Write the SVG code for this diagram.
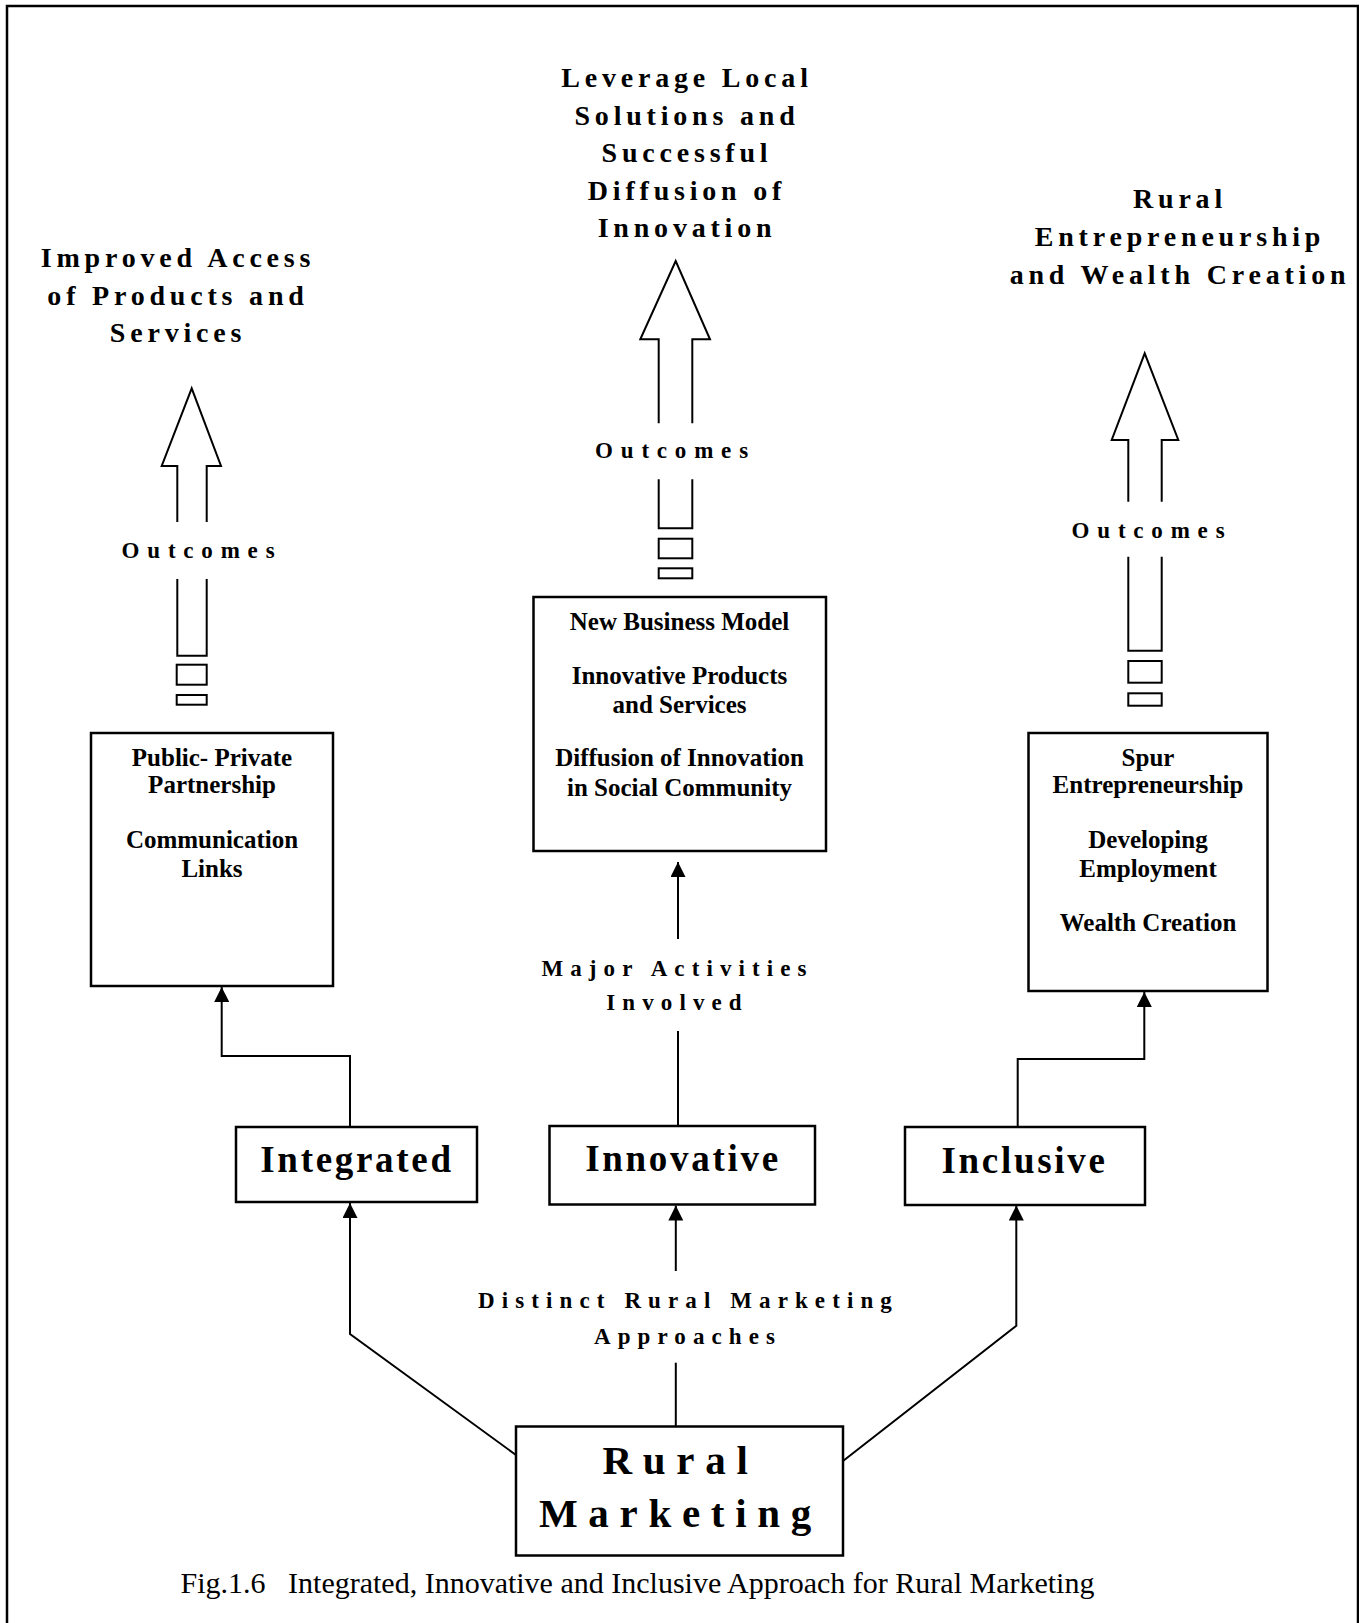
<svg xmlns="http://www.w3.org/2000/svg" width="1359" height="1623" viewBox="0 0 1359 1623">
  <style>
    text { font-family: "Liberation Serif", "Times New Roman", serif; fill: #000; text-anchor: middle; }
    .title { font-size: 28px; font-weight: bold; letter-spacing: 4.8px; }
    .outc { font-size: 23px; font-weight: bold; letter-spacing: 7.8px; }
    .lbl { font-size: 23px; font-weight: bold; letter-spacing: 7.1px; }
    .item { font-size: 25px; font-weight: bold; }
    .appr { font-size: 37px; font-weight: bold; letter-spacing: 2.7px; }
    .root { font-size: 41px; font-weight: bold; letter-spacing: 10.7px; }
    .cap { font-size: 30px; }
    .box { fill: #fff; stroke: #000; stroke-width: 2.5; }
    .hollow { fill: none; stroke: #000; stroke-width: 2; stroke-linejoin: miter; }
    .conn { fill: none; stroke: #000; stroke-width: 2; }
  </style>
  <defs>
    <marker id="head" markerUnits="userSpaceOnUse" markerWidth="15" markerHeight="15" viewBox="0 0 15 15" refX="15" refY="7.5" orient="auto">
      <path d="M0,0 L15,7.5 L0,15 Z" fill="#000"/>
    </marker>
  </defs>

  <!-- page frame -->
  <rect x="7" y="6" width="1351" height="1640" fill="none" stroke="#000" stroke-width="2.5"/>

  <!-- outcome headings -->
  <g id="outcome-access">
    <text class="title" x="178" y="267">Improved Access</text>
    <text class="title" x="178" y="305">of Products and</text>
    <text class="title" x="178" y="342">Services</text>
  </g>
  <g id="outcome-innovation">
    <text class="title" x="687" y="87">Leverage Local</text>
    <text class="title" x="687" y="125">Solutions and</text>
    <text class="title" x="687" y="162">Successful</text>
    <text class="title" x="687" y="200">Diffusion of</text>
    <text class="title" x="687" y="237">Innovation</text>
  </g>
  <g id="outcome-wealth">
    <text class="title" x="1180" y="208">Rural</text>
    <text class="title" x="1180" y="246">Entrepreneurship</text>
    <text class="title" x="1180" y="284">and Wealth Creation</text>
  </g>

  <!-- hollow "Outcomes" arrows -->
  <g id="arrow-left">
    <path class="hollow" d="M177.3,522 V466 H161.7 L191.7,388.3 L221,466 H206.7 V522"/>
    <path class="hollow" d="M177.3,579 V655.7 H206.7 V579"/>
    <rect class="hollow" x="176.7" y="664.7" width="30" height="20"/>
    <rect class="hollow" x="176.7" y="695" width="30" height="9.7"/>
    <text class="outc" x="202" y="558">Outcomes</text>
  </g>
  <g id="arrow-middle">
    <path class="hollow" d="M658.7,423.3 V339.3 H640.3 L675.7,261 L710,339.3 H692.3 V423.3"/>
    <path class="hollow" d="M658.7,479.3 V528.3 H692.3 V479.3"/>
    <rect class="hollow" x="658.7" y="538.7" width="33.6" height="19.6"/>
    <rect class="hollow" x="658.7" y="568.3" width="33.6" height="10"/>
    <text class="outc" x="675.5" y="458">Outcomes</text>
  </g>
  <g id="arrow-right">
    <path class="hollow" d="M1128.3,501.7 V440 H1111.7 L1144.7,353.3 L1178.3,440 H1161.7 V501.7"/>
    <path class="hollow" d="M1128.3,556.7 V650.7 H1161.7 V556.7"/>
    <rect class="hollow" x="1128.3" y="661" width="33.4" height="21.7"/>
    <rect class="hollow" x="1128.3" y="693.3" width="33.4" height="12.4"/>
    <text class="outc" x="1152" y="538">Outcomes</text>
  </g>

  <!-- activity boxes -->
  <g id="activities-integrated">
    <rect class="box" x="91" y="733" width="242" height="253"/>
    <text class="item" x="212" y="766">Public- Private</text>
    <text class="item" x="212" y="793">Partnership</text>
    <text class="item" x="212" y="848">Communication</text>
    <text class="item" x="212" y="877">Links</text>
  </g>
  <g id="activities-innovative">
    <rect class="box" x="533.5" y="597" width="292.5" height="254"/>
    <text class="item" x="679.5" y="629.5">New Business Model</text>
    <text class="item" x="679.5" y="683.5">Innovative Products</text>
    <text class="item" x="679.5" y="712.5">and Services</text>
    <text class="item" x="679.5" y="766">Diffusion of Innovation</text>
    <text class="item" x="679.5" y="795.5">in Social Community</text>
  </g>
  <g id="activities-inclusive">
    <rect class="box" x="1028.5" y="733" width="239" height="258"/>
    <text class="item" x="1148" y="766">Spur</text>
    <text class="item" x="1148" y="793">Entrepreneurship</text>
    <text class="item" x="1148" y="848">Developing</text>
    <text class="item" x="1148" y="877">Employment</text>
    <text class="item" x="1148" y="931">Wealth Creation</text>
  </g>

  <!-- approach boxes -->
  <g id="integrated">
    <rect class="box" x="236" y="1127" width="241" height="75"/>
    <text class="appr" x="357" y="1172">Integrated</text>
  </g>
  <g id="innovative">
    <rect class="box" x="549.5" y="1126" width="265.5" height="78.5"/>
    <text class="appr" x="683" y="1171">Innovative</text>
  </g>
  <g id="inclusive">
    <rect class="box" x="905" y="1127" width="240" height="78"/>
    <text class="appr" x="1024.5" y="1173">Inclusive</text>
  </g>

  <!-- root -->
  <g id="rural-marketing">
    <rect class="box" x="516" y="1426.5" width="327" height="129"/>
    <text class="root" x="680.5" y="1474">Rural</text>
    <text class="root" x="680.5" y="1527">Marketing</text>
  </g>

  <!-- connectors -->
  <g id="connectors">
    <path class="conn" d="M350,1127 V1056 H221.7 V987" marker-end="url(#head)"/>
    <path class="conn" d="M678,1126 V1031"/>
    <path class="conn" d="M678,939 V862" marker-end="url(#head)"/>
    <path class="conn" d="M1017.7,1127 V1059 H1144.3 V992" marker-end="url(#head)"/>
    <path class="conn" d="M516,1455 L350,1334 V1203" marker-end="url(#head)"/>
    <path class="conn" d="M675.8,1426.5 V1362.7"/>
    <path class="conn" d="M675.8,1271 V1205.5" marker-end="url(#head)"/>
    <path class="conn" d="M843,1461 L1016.3,1325.7 V1205.5" marker-end="url(#head)"/>
  </g>

  <!-- connector labels -->
  <g id="label-activities">
    <text class="lbl" x="677.5" y="975.5">Major Activities</text>
    <text class="lbl" x="677.5" y="1010">Involved</text>
  </g>
  <g id="label-approaches">
    <text class="lbl" x="688.5" y="1308">Distinct Rural Marketing</text>
    <text class="lbl" x="688" y="1343.5">Approaches</text>
  </g>

  <!-- caption -->
  <text id="caption" class="cap" x="637.5" y="1593" xml:space="preserve">Fig.1.6   Integrated, Innovative and Inclusive Approach for Rural Marketing</text>
</svg>
